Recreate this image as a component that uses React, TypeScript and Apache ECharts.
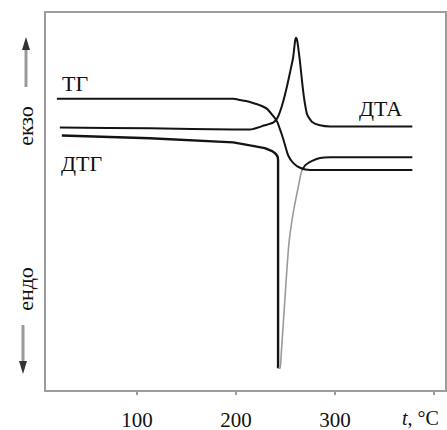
import React, { useEffect, useRef } from "react";
import * as echarts from "echarts";

// temperature (°C) vs. signal (arbitrary units)
const tgCurve: [number, number][] = [
  [19, 77.1], [113, 77.1], [197, 77.1], [204, 76.8], [210, 76.5], [217, 76.0], [224, 75.4],
  [231, 74.5], [237, 72.7], [241.4, 71.1], [244, 69.3], [246.5, 67.4], [249.5, 64.8],
  [252.5, 62.2], [257.6, 60.2], [264.6, 58.9], [274.7, 58.3], [290, 58.3], [378, 58.3],
];

const dtaCurve: [number, number][] = [
  [22, 69.5], [113, 69.3], [197, 69.0], [214, 69.0], [229, 70.1], [237.4, 70.8],
  [241.4, 71.9], [244.4, 73.7], [247.5, 76.3], [251.5, 80.5], [254.5, 84.1], [257.6, 88.0],
  [259.6, 92.4], [260.6, 93.2], [261.6, 92.6], [262.6, 90.9], [264.6, 86.7], [266.7, 81.5],
  [268.7, 77.2], [271.7, 73.0], [276.8, 71.0], [284.8, 70.1], [295, 69.8], [378, 69.8],
];

const dtgCurve: [number, number][] = [
  [24, 67.4], [113, 66.7], [197, 65.6], [214, 64.8], [229, 64.1], [236.4, 63.3],
  [240, 62.6], [242.0, 61.8], [242.4, 61.0], [242.4, 6.0],
];

const dtgRecovery: [number, number][] = [
  [242.4, 6.0], [244.5, 6.0], [245.5, 9.4], [247.5, 17.2], [249.5, 25.0], [251.5, 32.8],
  [253.5, 39.3], [256.6, 45.3], [259.6, 49.7], [262.6, 53.6], [265.2, 57.0], [266.7, 58.3],
];

const dtgTail: [number, number][] = [
  [266.7, 58.3], [270, 59.6], [276.8, 60.7], [284.8, 61.5], [295, 61.7], [378, 61.7],
];

const xTicks = [100, 200, 300, 400];
const xLabels = [100, 200, 300];
const curveLabels = ["ТГ", "ДТГ", "ДТА"];
const sideLabels = ["екзо", "ендо"];

const FONT = "'Liberation Serif', 'Times New Roman', serif";

export default function App() {
  const ref = useRef<HTMLDivElement>(null);
  useEffect(() => {
    if (!ref.current) return;
    const chart = echarts.init(ref.current, undefined, { renderer: "svg" });
    const black = "#141414";
    const lineBase = { type: "line" as const, symbol: "none", animation: false, silent: true };
    chart.setOption({
      animation: false,
      backgroundColor: "#ffffff",
      grid: {
        left: 45, right: 1, top: 12, bottom: 34,
        show: true, borderColor: "#9c9c9c", borderWidth: 2,
      },
      xAxis: {
        type: "value",
        min: 7,
        max: 412,
        axisLine: { show: true, lineStyle: { color: "#9c9c9c", width: 2 } },
        axisTick: { show: true, customValues: xTicks, length: 4, lineStyle: { color: "#9c9c9c", width: 2 } },
        axisLabel: {
          show: true, customValues: xLabels, margin: 18,
          color: "#111", fontFamily: FONT, fontSize: 21, lineHeight: 21,
        },
        splitLine: { show: false },
      },
      yAxis: { type: "value", min: 0, max: 100, show: false, splitLine: { show: false } },
      series: [
        { ...lineBase, name: "TG", data: tgCurve, smooth: 0.2, lineStyle: { color: black, width: 2 } },
        { ...lineBase, name: "DTA", data: dtaCurve, smooth: 0.2, lineStyle: { color: black, width: 2 } },
        { ...lineBase, name: "DTG", data: dtgCurve, smooth: false, lineStyle: { color: black, width: 2.4 } },
        { ...lineBase, name: "DTG2", data: dtgRecovery, smooth: 0.2, lineStyle: { color: "#9a9a9a", width: 1.6 } },
        { ...lineBase, name: "DTG3", data: dtgTail, smooth: 0.2, lineStyle: { color: black, width: 2 } },
      ],
      graphic: [
        { type: "text", left: 62, top: 72, style: { text: curveLabels[0], font: `22px ${FONT}`, fill: "#111" } },
        { type: "text", left: 61, top: 152, style: { text: curveLabels[1], font: `22px ${FONT}`, fill: "#111" } },
        { type: "text", left: 359, top: 97, style: { text: curveLabels[2], font: `22px ${FONT}`, fill: "#111" } },
        {
          type: "text", x: 25, y: 126, rotation: Math.PI / 2,
          style: { text: sideLabels[0], font: `22px ${FONT}`, fill: "#111", align: "center", verticalAlign: "middle" },
        },
        {
          type: "text", x: 25, y: 289, rotation: Math.PI / 2,
          style: { text: sideLabels[1], font: `22px ${FONT}`, fill: "#111", align: "center", verticalAlign: "middle" },
        },
        {
          type: "text", x: 402, y: 418,
          style: {
            text: "{i|t}{n|, °C}",
            rich: {
              i: { font: `italic 20px ${FONT}`, fill: "#111", lineHeight: 20 },
              n: { font: `20px ${FONT}`, fill: "#111", lineHeight: 20 },
            },
            verticalAlign: "middle",
          },
        },
        { type: "line", shape: { x1: 26, y1: 87, x2: 26, y2: 48 }, style: { stroke: "#9a9a9a", lineWidth: 3 } },
        { type: "polygon", shape: { points: [[26, 37], [22, 50], [30, 50]] }, style: { fill: "#333" } },
        { type: "line", shape: { x1: 23, y1: 325, x2: 23, y2: 362 }, style: { stroke: "#9a9a9a", lineWidth: 3 } },
        { type: "polygon", shape: { points: [[23, 374], [19, 361], [27, 361]] }, style: { fill: "#333" } },
      ],
    });
    return () => chart.dispose();
  }, []);
  return (
    <div
      ref={ref}
      style={{ position: "fixed", left: 0, top: 0, width: 447, height: 430, background: "#fff" }}
    />
  );
}
